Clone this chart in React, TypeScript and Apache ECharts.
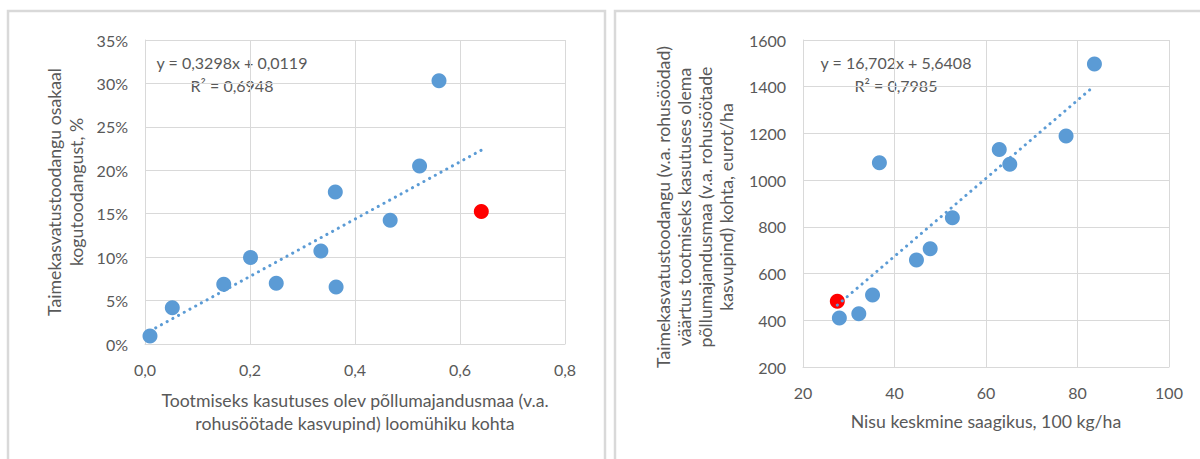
import React, { useEffect, useRef } from "react";
import * as echarts from "echarts";

// Left chart: farmland in use per livestock unit vs. share of crop output
const landPerLU = [0.0095, 0.052, 0.15, 0.201, 0.25, 0.335, 0.3625, 0.364, 0.467, 0.523, 0.56];
const cropShare = [0.0092, 0.0418, 0.0687, 0.0995, 0.0699, 0.107, 0.175, 0.0657, 0.1425, 0.205, 0.303];
const leftHighlight = [0.6406, 0.1525];
const leftSlope = 0.3298;
const leftIntercept = 0.0119;
const leftR2 = "0,6948";

// Right chart: average wheat yield vs. crop output value per hectare
const wheatYield = [27.95, 32.2, 35.2, 36.7, 44.8, 47.8, 52.65, 62.9, 65.2, 77.5, 83.7];
const cropValue = [410, 428, 508, 1074, 658, 706, 839, 1131, 1068, 1189, 1497];
const rightHighlight = [27.5, 481];
const rightSlope = 16.702;
const rightIntercept = 5.6408;
const rightR2 = "0,7985";

// Axis ranges: [min, max, interval]
const leftXRange = [0, 0.8, 0.2];
const leftYRange = [0, 0.35, 0.05];
const rightXRange = [20, 100, 20];
const rightYRange = [200, 1600, 200];

// Axis titles
const leftYTitle = ["Taimekasvatustoodangu osakaal", "kogutoodangust, %"];
const leftXTitle = ["Tootmiseks kasutuses olev põllumajandusmaa (v.a.", "rohusöötade kasvupind) loomühiku kohta"];
const rightYTitle = [
  "Taimekasvatustoodangu (v.a. rohusöödad)",
  "väärtus tootmiseks kasutuses olema",
  "põllumajandusmaa (v.a. rohusöötade",
  "kasvupind) kohta, eurot/ha",
];
const rightXTitle = "Nisu keskmine saagikus, 100 kg/ha";

const BLUE = "#5B9BD5";
const RED = "#FF0000";
const TEXT = "#595959";
const GRID = "#D9D9D9";
const FONT = "Lato";
const TITLE_SIZE = 17.7;

const fmtComma = (v: number, d: number) => v.toFixed(d).replace(".", ",");

function trendPoints(xs: number[], hx: number, slope: number, intercept: number) {
  const all = xs.concat([hx]);
  const x0 = Math.min(...all);
  const x1 = Math.max(...all);
  return [
    [x0, slope * x0 + intercept],
    [x1, slope * x1 + intercept],
  ];
}

function valueAxis(range: number[], gridIndex: number, formatter: (v: number) => string) {
  return {
    type: "value",
    gridIndex,
    min: range[0],
    max: range[1],
    interval: range[2],
    axisLine: { show: true, lineStyle: { color: GRID, width: 1 } },
    axisTick: { show: false },
    splitLine: { show: true, lineStyle: { color: GRID, width: 1 } },
    axisLabel: {
      color: TEXT,
      fontFamily: FONT,
      fontSize: 16,
      margin: 17,
      formatter,
    },
  };
}

function text(x: number, y: number, content: string, extra: any = {}) {
  return {
    type: "text",
    x,
    y,
    silent: true,
    ...extra,
    style: {
      text: content,
      fill: TEXT,
      fontFamily: FONT,
      fontSize: 16,
      align: "center",
      verticalAlign: "middle",
      lineHeight: 22,
      ...(extra.style || {}),
    },
  };
}

export default function App() {
  const ref = useRef<HTMLDivElement>(null);

  useEffect(() => {
    if (!ref.current) return;
    const chart = echarts.init(ref.current, undefined, { renderer: "svg" });

    const leftTrend = trendPoints(landPerLU, leftHighlight[0], leftSlope, leftIntercept);
    const rightTrend = trendPoints(wheatYield, rightHighlight[0], rightSlope, rightIntercept);

    const dotted = {
      color: BLUE,
      width: 3,
      type: [0.1, 6.4],
      cap: "round",
    };

    chart.setOption({
      animation: false,
      backgroundColor: "#FFFFFF",
      grid: [
        { left: 145, top: 40, width: 420, height: 304 },
        { left: 803, top: 40, width: 366, height: 327 },
      ],
      xAxis: [
        valueAxis(leftXRange, 0, (v) => fmtComma(v, 1)),
        valueAxis(rightXRange, 1, (v) => String(v)),
      ],
      yAxis: [
        valueAxis(leftYRange, 0, (v) => Math.round(v * 100) + "%"),
        valueAxis(rightYRange, 1, (v) => String(v)),
      ],
      series: [
        {
          type: "scatter",
          xAxisIndex: 0,
          yAxisIndex: 0,
          symbolSize: 15,
          itemStyle: { color: BLUE, opacity: 1 },
          data: landPerLU.map((x, i) => [x, cropShare[i]]),
          z: 2,
        },
        {
          type: "scatter",
          xAxisIndex: 0,
          yAxisIndex: 0,
          symbolSize: 15,
          itemStyle: { color: RED, opacity: 1 },
          data: [leftHighlight],
          z: 2,
        },
        {
          type: "line",
          xAxisIndex: 0,
          yAxisIndex: 0,
          showSymbol: false,
          symbol: "none",
          lineStyle: dotted,
          data: leftTrend,
          z: 3,
        },
        {
          type: "scatter",
          xAxisIndex: 1,
          yAxisIndex: 1,
          symbolSize: 15,
          itemStyle: { color: BLUE, opacity: 1 },
          data: wheatYield.map((x, i) => [x, cropValue[i]]),
          z: 2,
        },
        {
          type: "scatter",
          xAxisIndex: 1,
          yAxisIndex: 1,
          symbolSize: 15,
          itemStyle: { color: RED, opacity: 1 },
          data: [rightHighlight],
          z: 2,
        },
        {
          type: "line",
          xAxisIndex: 1,
          yAxisIndex: 1,
          showSymbol: false,
          symbol: "none",
          lineStyle: dotted,
          data: rightTrend,
          z: 3,
        },
      ],
      graphic: [
        {
          type: "rect",
          silent: true,
          shape: { x: 8, y: 11, width: 597, height: 480 },
          style: { fill: "none", stroke: GRID, lineWidth: 2.5 },
        },
        {
          type: "rect",
          silent: true,
          shape: { x: 615, y: 11, width: 640, height: 480 },
          style: { fill: "none", stroke: GRID, lineWidth: 2.5 },
        },
        // trendline equations
        text(
          232,
          73.5,
          `y = ${fmtComma(leftSlope, 4)}x + ${fmtComma(leftIntercept, 4)}\nR² = ${leftR2}`,
          { style: { lineHeight: 23 } }
        ),
        text(
          896,
          73.5,
          `y = ${fmtComma(rightSlope, 3)}x + ${fmtComma(rightIntercept, 4)}\nR² = ${rightR2}`,
          { style: { lineHeight: 23 } }
        ),
        // axis titles
        text(65.5, 192, leftYTitle.join("\n"), {
          rotation: Math.PI / 2,
          style: { fontSize: TITLE_SIZE, lineHeight: 22 },
        }),
        text(355, 411.5, leftXTitle.join("\n"), { style: { fontSize: TITLE_SIZE, lineHeight: 23 } }),
        text(694.5, 207, rightYTitle.join("\n"), {
          rotation: Math.PI / 2,
          style: { fontSize: TITLE_SIZE, lineHeight: 21 },
        }),
        text(986, 421.5, rightXTitle, { style: { fontSize: TITLE_SIZE } }),
      ],
    });

    return () => chart.dispose();
  }, []);

  return (
    <div
      ref={ref}
      style={{ position: "absolute", left: 0, top: 0, width: 1200, height: 459, background: "#FFFFFF" }}
    />
  );
}
